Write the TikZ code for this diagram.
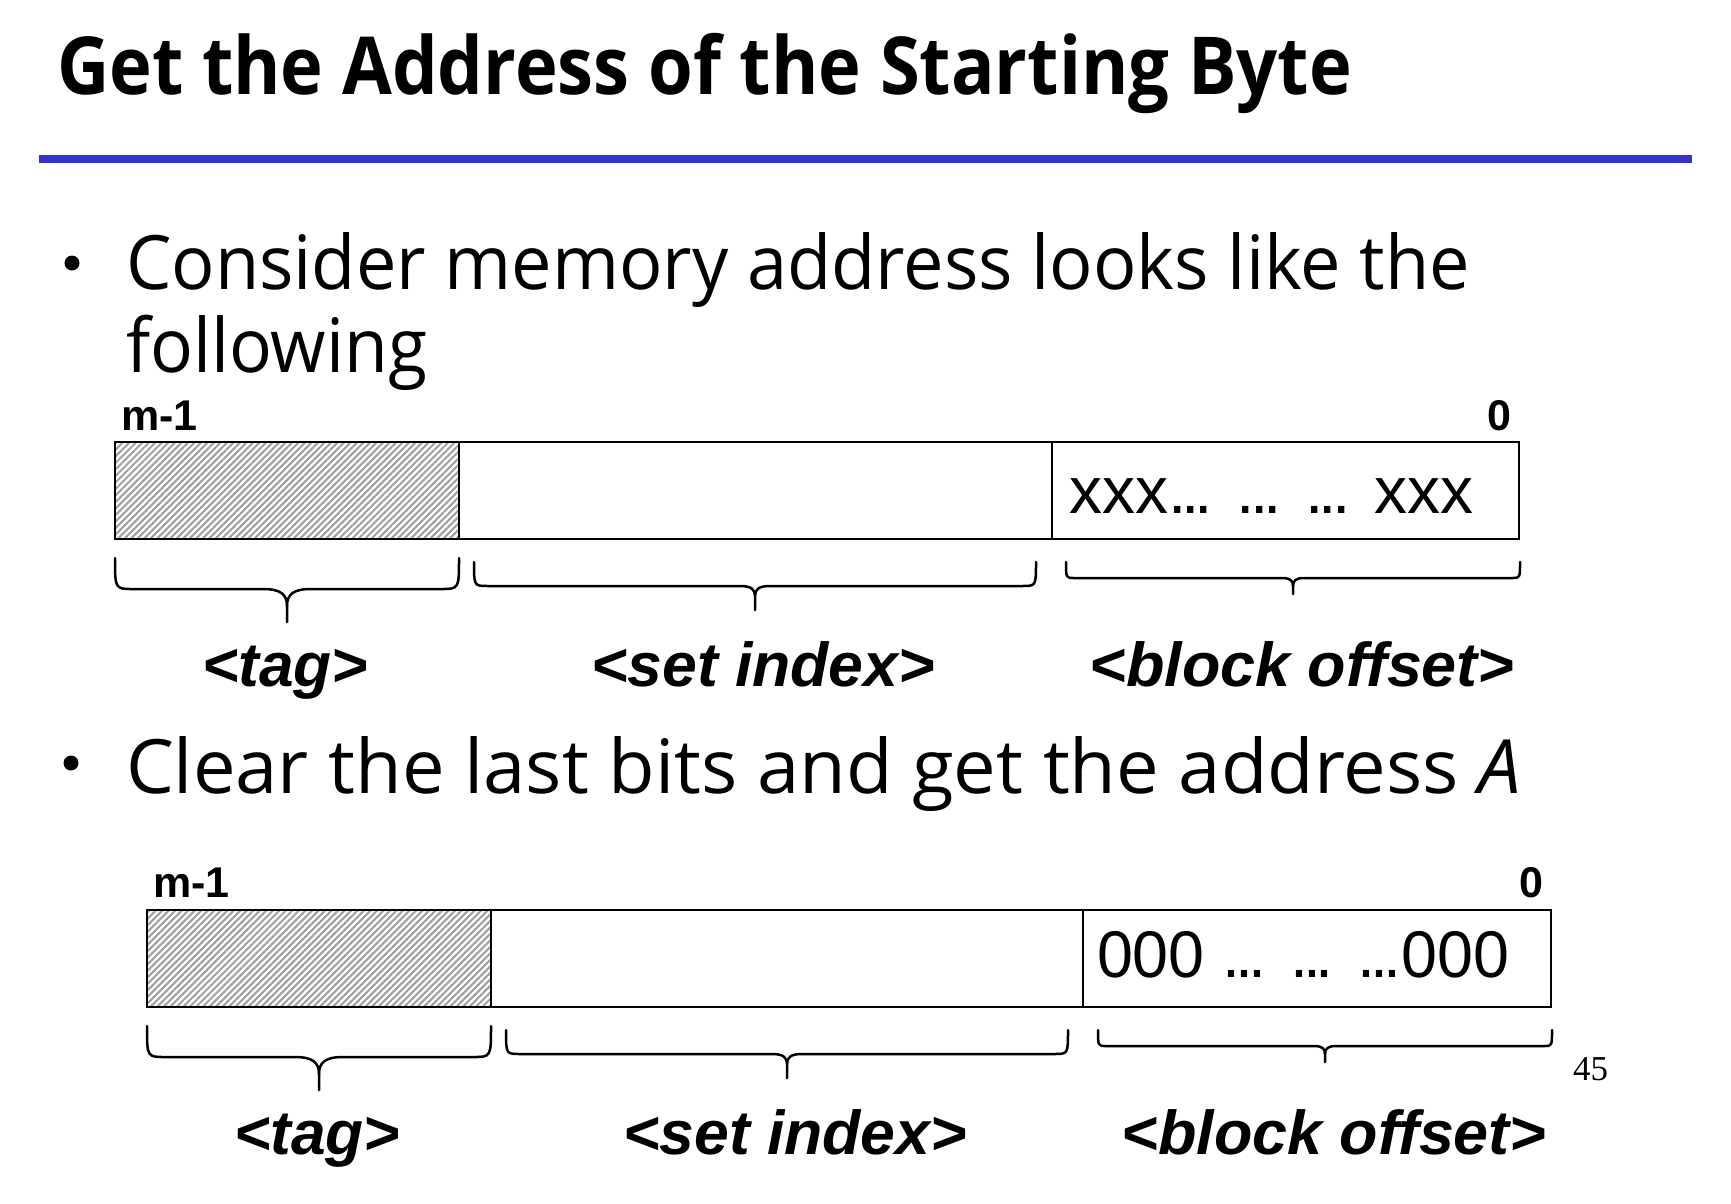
\documentclass[tikz,border=0pt]{standalone}
\usepackage{fontspec}
\usepackage{graphicx}
\setmainfont{Open Sans}
\newfontfamily\bodyfont{Open Sans}
\newfontfamily\arialfont{Liberation Sans}
\newfontfamily\timesfont{Liberation Serif}
\usetikzlibrary{patterns.meta}
\definecolor{titleblue}{RGB}{51,51,204}
\definecolor{hatchgray}{RGB}{160,160,160}
\newsavebox\fitbox
\newcommand\fitto[2]{\sbox\fitbox{#2}\pgfmathsetmacro\fitf{#1/\wd\fitbox}\scalebox{\fitf}[1]{\usebox\fitbox}}
\newcommand\dotsgrp{.\kern-0.08em.\kern-0.08em.}
\newcommand\bodysize{\bodyfont\fontsize{75}{90}\selectfont}
\newcommand\lblsize{\arialfont\bfseries\itshape\fontsize{62}{74}\selectfont}
\newcommand\bitsize{\arialfont\bfseries\fontsize{43}{50}\selectfont}
\newcommand\valsize{\arialfont\fontsize{66}{80}\selectfont}
\newcommand\brc[8]{%
  \pgfmathsetmacro\bm{(#1+#2)/2}%
  \draw[bracestyle] (#1,#3) .. controls (#1,#4) .. ({#1+#6},#4) -- ({\bm-#7},#4) .. controls ({\bm-#7/4},#4) and (\bm,{#4+#8/3}) .. (\bm,{#4+#8}) -- (\bm,#5);
  \draw[bracestyle] (#2,#3) .. controls (#2,#4) .. ({#2-#6},#4) -- ({\bm+#7},#4) .. controls ({\bm+#7/4},#4) and (\bm,{#4+#8/3}) .. (\bm,{#4+#8});
}
\begin{document}
\begin{tikzpicture}[x=1pt,y=-1pt,
  txt/.style={anchor=base west, inner sep=0pt, outer sep=0pt},
  lbl/.style={anchor=base, inner sep=0pt, outer sep=0pt},
  bulletdot/.style={circle, fill=black, inner sep=0pt, minimum size=15pt},
  fieldline/.style={draw=black, line width=1.6pt},
  tagline/.style={draw=black, line width=2.6pt},
  hatchfill/.style={pattern={Lines[angle=45,distance=4.6pt,line width=2.1pt]}, pattern color=hatchgray},
  bracestyle/.style={draw=black, line width=2.5pt, line join=round, line cap=round}]
\useasboundingbox (0,0) rectangle (1731,1203);
\fill[white] (0,0) rectangle (1731,1203);

% title
\node[txt] (title) at (57,94) {\bodyfont\fontsize{80}{96}\selectfont\bfseries\fitto{1295}{Get the Address of the Starting Byte}};
\draw[titleblue, line width=8pt] (39,159) -- (1692,159);

% bullet text
\node[bulletdot] (b1) at (72,263) {};
\node[txt] (l1) at (126,289) {\bodysize\fitto{1344}{Consider memory address looks like the}};
\node[txt] (l2) at (126,372) {\bodysize\fitto{301}{following}};
\node[bulletdot] (b2) at (71,763) {};
\node[txt] (l3) at (126,793) {\bodysize\fitto{1395}{Clear the last bits and get the address \textit{A}}};

% ---- row 1 ----
\node[txt] (m1a) at (121,430) {\bitsize m-1};
\node[anchor=base east, inner sep=0pt] (z1a) at (1512,430) {\bitsize 0};
\fill[hatchfill] (115,442) rectangle (459,539);
\draw[fieldline] (115,442) rectangle (1519,539);
\draw[fieldline] (1052,442) -- (1052,539);
\draw[tagline] (115,442) rectangle (459,539);
\node[txt] (bo1) at (1069,513) {\valsize xxx\dotsgrp{} \dotsgrp{} \dotsgrp{} xxx};
\brc{115}{459}{558}{589}{622}{18}{24}{17}
\brc{474}{1036}{562}{586}{610}{14}{15}{10}
\brc{1066}{1520}{562}{578}{594}{8}{11}{8}
\node[lbl] (tag1) at (285,686) {\lblsize\fitto{166}{<tag>}};
\node[lbl] (set1) at (763,686) {\lblsize\fitto{344}{<set index>}};
\node[lbl] (off1) at (1302,686) {\lblsize\fitto{425}{<block offset>}};

% ---- row 2 ----
\node[txt] (m1b) at (153,897) {\bitsize m-1};
\node[anchor=base east, inner sep=0pt] (z1b) at (1544,897) {\bitsize 0};
\fill[hatchfill] (147,910) rectangle (491,1007);
\draw[fieldline] (147,910) rectangle (1551,1007);
\draw[fieldline] (1083,910) -- (1083,1007);
\draw[tagline] (147,910) rectangle (491,1007);
\node[txt] (bo2) at (1097,977) {\valsize\fitto{412}{000 \dotsgrp{} \dotsgrp{} \dotsgrp000}};
\brc{147}{491}{1026}{1057}{1090}{18}{24}{17}
\brc{506}{1068}{1030}{1054}{1078}{14}{15}{10}
\brc{1098}{1552}{1030}{1046}{1062}{8}{11}{8}
\node[lbl] (tag2) at (317,1154) {\lblsize\fitto{166}{<tag>}};
\node[lbl] (set2) at (795,1154) {\lblsize\fitto{344}{<set index>}};
\node[lbl] (off2) at (1334,1154) {\lblsize\fitto{425}{<block offset>}};

\node[txt] (pg) at (1573,1080) {\timesfont\fontsize{35}{42}\selectfont 45};
\end{tikzpicture}
\end{document}
